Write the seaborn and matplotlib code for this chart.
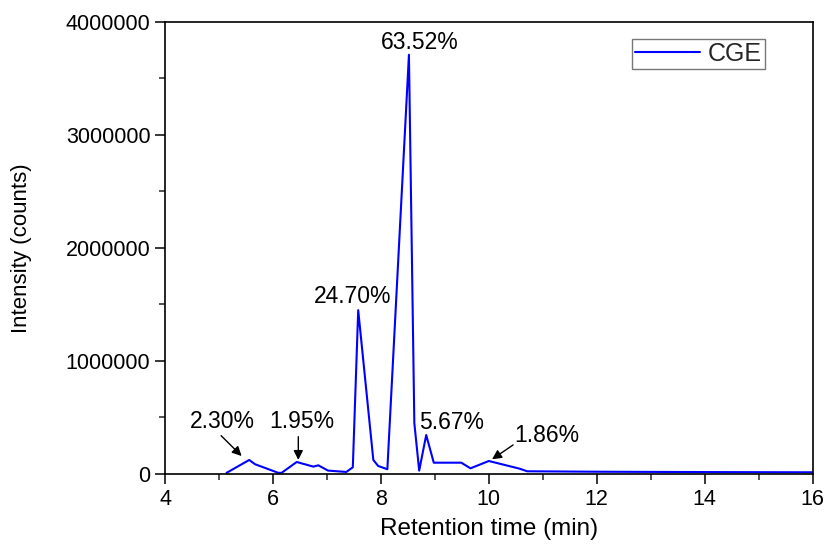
import matplotlib
matplotlib.use("Agg")
import matplotlib.pyplot as plt
import matplotlib.ticker as mticker
import numpy as np
import pandas as pd
import seaborn as sns

# Data
retention_time = [5.14, 5.56, 5.67, 6.10, 6.16, 6.44, 6.75, 6.84, 7.02, 7.36, 7.48,
                  7.58, 7.86, 7.95, 8.12, 8.52, 8.62, 8.71, 8.84, 8.98, 9.49, 9.66,
                  10.00, 10.57, 10.71, 12.00, 14.00, 16.00]
intensity = [10000, 124000, 86000, 10000, 10000, 106000, 65000, 77000, 30000, 18000, 59000,
             1450000, 124000, 71000, 42000, 3710000, 450000, 30000, 345000, 100000, 100000, 50000,
             115000, 47000, 24000, 20000, 17000, 15000]
series_name = "CGE"

peak_labels = ["63.52%", "24.70%", "5.67%"]
peak_label_x = [8.72, 7.48, 9.31]
peak_label_y = [3820000, 1570000, 454000]

arrow_labels = ["2.30%", "1.95%", "1.86%"]
arrow_text_x = [5.07, 6.53, 11.07]
arrow_text_y = [463000, 463000, 345000]
arrow_tail_x = [5.04, 6.47, 10.45]
arrow_tail_y = [339000, 330000, 257000]
arrow_head_x = [5.42, 6.47, 10.06]
arrow_head_y = [159000, 124000, 130000]

x_ticks = [4, 6, 8, 10, 12, 14, 16]
y_ticks = [0, 1000000, 2000000, 3000000, 4000000]

sns.set_theme(style="white")
plt.rcParams['font.family'] = ['Liberation Sans', 'DejaVu Sans']
plt.rcParams['axes.edgecolor'] = 'black'
plt.rcParams['axes.linewidth'] = 1.2

df = pd.DataFrame({"Retention time (min)": retention_time,
                   "Intensity (counts)": intensity,
                   "series": series_name})

fig = plt.figure(figsize=(8.25, 5.44), dpi=100)
ax = fig.add_axes([0.2, 0.1287, 0.785, 0.8309])

sns.lineplot(data=df, x="Retention time (min)", y="Intensity (counts)", hue="series",
             palette=["#0000FF"], sort=False, estimator=None, linewidth=1.5, ax=ax)

ax.set_xlim(4, 16)
ax.set_ylim(0, 4000000)
ax.set_xticks(x_ticks)
ax.set_yticks(y_ticks)
ax.xaxis.set_minor_locator(mticker.MultipleLocator(1))
ax.yaxis.set_minor_locator(mticker.MultipleLocator(500000))
ax.yaxis.set_major_formatter(mticker.FuncFormatter(lambda v, p: f"{int(round(v))}"))
ax.xaxis.set_major_formatter(mticker.FuncFormatter(lambda v, p: f"{int(round(v))}"))
ax.tick_params(axis='both', which='major', direction='out', length=7, width=1.1,
               labelsize=15.5, colors='black', bottom=True, left=True, top=False, right=False)
ax.tick_params(axis='both', which='minor', direction='out', length=4, width=1.1,
               bottom=True, left=True, top=False, right=False)
for s in ax.spines.values():
    s.set_visible(True)
    s.set_color('black')

ax.set_xlabel("Retention time (min)", fontsize=17.5, color='black', labelpad=6)
ax.set_ylabel("Intensity (counts)", fontsize=16, color='black', labelpad=24)

for t, x, y in zip(peak_labels, peak_label_x, peak_label_y):
    ax.text(x, y, t, fontsize=16.5, ha='center', va='center', color='black')

for t, tx, ty, ax0, ay0, hx, hy in zip(arrow_labels, arrow_text_x, arrow_text_y,
                                        arrow_tail_x, arrow_tail_y, arrow_head_x, arrow_head_y):
    ax.text(tx, ty, t, fontsize=16.5, ha='center', va='center', color='black')
    ax.annotate("", xy=(hx, hy), xytext=(ax0, ay0),
                arrowprops=dict(arrowstyle="-|>", color='black', lw=1.0,
                                mutation_scale=14, shrinkA=0, shrinkB=0))

leg = ax.legend(loc='upper right', fontsize=18, frameon=True, fancybox=False,
                edgecolor='#555555', handlelength=2.6, borderpad=0.12,
                handletextpad=0.3, borderaxespad=0, bbox_to_anchor=(0.926, 0.962))
leg.get_frame().set_linewidth(1.0)

fig.savefig("out.png", dpi=100)
